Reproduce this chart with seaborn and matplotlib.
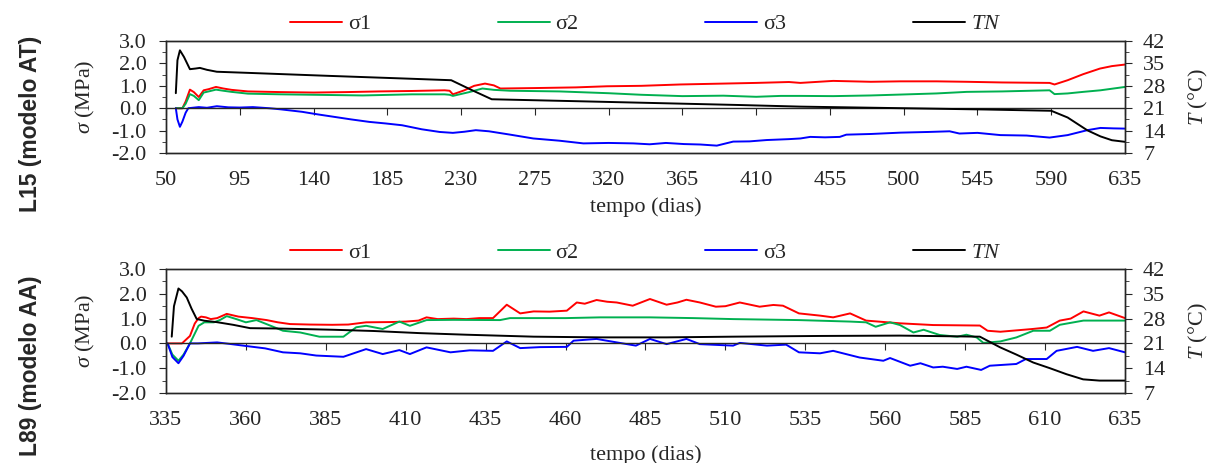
import seaborn as sns
import matplotlib.pyplot as plt
from matplotlib.ticker import MultipleLocator, FormatStrFormatter

# ---- L15 (modelo AT) ----
l15_s1_x = [56, 60, 62, 64.6, 67, 70, 73, 76, 80.5, 85, 90, 100, 120, 140, 160, 180, 200, 220, 223, 225,
            232, 238, 244.6, 250, 254, 275, 300, 319, 340, 363.6, 390, 410, 430, 437, 457, 480, 498, 520,
            538.5, 560, 589, 592, 600, 609.5, 619.7, 627, 635]
l15_s1 = [0, 0, 0.3, 0.83, 0.72, 0.5, 0.8, 0.85, 0.95, 0.88, 0.82, 0.75, 0.72, 0.7, 0.72, 0.75, 0.77, 0.8, 0.78, 0.62,
          0.8, 1.0, 1.10, 1.02, 0.88, 0.9, 0.93, 0.98, 1.0, 1.06, 1.1, 1.13, 1.17, 1.13, 1.22, 1.18, 1.2, 1.2,
          1.18, 1.15, 1.13, 1.06, 1.25, 1.52, 1.77, 1.88, 1.95]

l15_s2_x = [56, 60, 62, 64.6, 67, 70, 73, 76, 80.5, 85, 90, 100, 120, 140, 170, 200, 220, 223, 225, 235,
            243, 250, 260, 290, 320, 340, 365, 390, 410, 425, 437, 457, 480, 498, 520, 538.5, 560, 589,
            592, 600, 609.5, 620, 635]
l15_s2 = [0, 0, 0.2, 0.63, 0.55, 0.36, 0.7, 0.75, 0.83, 0.78, 0.73, 0.65, 0.62, 0.6, 0.57, 0.62, 0.62, 0.6, 0.55, 0.72,
          0.88, 0.82, 0.78, 0.75, 0.67, 0.6, 0.54, 0.56, 0.51, 0.55, 0.55, 0.54, 0.57, 0.61, 0.66, 0.73, 0.75, 0.8,
          0.63, 0.66, 0.73, 0.8, 0.95]

l15_s3_x = [56, 57, 58.5, 60, 62, 63.6, 70, 75, 81, 88, 95, 103, 113, 120, 133, 143, 153, 163, 174, 184,
            194, 206, 217, 225, 232, 239, 247, 260, 274, 290, 304.6, 320, 335, 345, 355, 366, 376, 386,
            396, 406, 416.5, 430, 437, 443, 452, 461, 465, 480, 498, 515, 528, 534, 545, 559, 575, 589,
            600, 612, 620, 628, 635]
l15_s3 = [0, -0.5, -0.83, -0.6, -0.2, 0, 0.05, 0.02, 0.09, 0.04, 0.03, 0.05, 0, -0.05, -0.16, -0.28, -0.39, -0.5, -0.61, -0.68,
          -0.76, -0.94, -1.06, -1.1, -1.05, -0.98, -1.03, -1.18, -1.35, -1.45, -1.57, -1.55, -1.57, -1.61, -1.55, -1.6, -1.62, -1.67,
          -1.49, -1.48, -1.42, -1.38, -1.35, -1.28, -1.3, -1.28, -1.18, -1.15, -1.09, -1.06, -1.03, -1.13, -1.1, -1.2, -1.22, -1.31,
          -1.2, -0.98, -0.88, -0.9, -0.91]

l15_tn_x = [56, 57, 58.5, 61, 64.6, 68, 70.7, 75, 81, 100, 150, 200, 224, 236, 248.7, 300, 350, 400, 437,
            500, 550, 590, 600, 612, 620, 627, 635]
l15_tn = [25.7, 36, 39.1, 37, 33.2, 33.4, 33.6, 33, 32.4, 32.05, 31.1, 30.2, 29.75, 26.8, 23.8, 23.2, 22.6, 22.0, 21.5,
          21.0, 20.6, 20.2, 18.1, 14.1, 12.2, 11.0, 10.5]

# ---- L89 (modelo AA) ----
l89_s1_x = [335.5, 340, 342.5, 344, 345.2, 346, 347.5, 349, 351, 354, 357.7, 362, 366.5, 370, 373.8, 380, 387, 392,
            397.6, 405, 410, 414, 416.5, 420, 425, 429, 433, 437.3, 441.6, 445.8, 450, 455, 460.4, 463.5, 466,
            469.7, 473, 476, 481, 486.4, 491.6, 495, 497.8, 502, 507, 510, 514.5, 520.7, 525, 528, 533, 539.6,
            543.7, 549, 554, 564.6, 575, 589.6, 592, 596, 606, 610.5, 614.6, 618, 622, 627, 630, 635]
l89_s1 = [0, 0, 0.3, 0.8, 1.02, 1.08, 1.05, 0.98, 1.02, 1.19, 1.08, 1.02, 0.94, 0.85, 0.78, 0.76, 0.75, 0.76,
          0.85, 0.86, 0.88, 0.92, 1.05, 0.98, 1.0, 0.98, 1.02, 1.02, 1.56, 1.21, 1.29, 1.28, 1.32, 1.65, 1.6,
          1.75, 1.68, 1.65, 1.52, 1.79, 1.56, 1.65, 1.76, 1.65, 1.48, 1.5, 1.65, 1.48, 1.55, 1.52, 1.21, 1.12,
          1.05, 1.21, 0.92, 0.81, 0.74, 0.72, 0.51, 0.47, 0.58, 0.64, 0.92, 1.0, 1.29, 1.12, 1.25, 1.02]

l89_s2_x = [335.5, 337, 338.9, 340.5, 342.5, 345.2, 347, 350, 352, 354, 357, 360, 363.3, 367, 371.6, 377, 383,
            390.5, 394.5, 397.6, 402.8, 408, 411.3, 416.5, 425, 439.5, 442.6, 460, 470.8, 486.4, 500, 512.4,
            533, 549, 554, 557, 561.5, 564.6, 568.8, 572, 577, 582.5, 585.4, 588.6, 590.7, 596, 601, 606.3,
            611.5, 614.6, 622, 635]
l89_s2 = [0, -0.45, -0.7, -0.45, 0, 0.71, 0.85, 0.85, 0.95, 1.1, 0.98, 0.85, 0.94, 0.75, 0.51, 0.44, 0.27,
          0.27, 0.65, 0.71, 0.58, 0.88, 0.71, 0.94, 0.95, 0.94, 1.02, 1.02, 1.05, 1.05, 1.02, 0.98,
          0.94, 0.88, 0.85, 0.67, 0.85, 0.74, 0.44, 0.55, 0.34, 0.27, 0.35, 0.24, 0.02, 0.08, 0.24, 0.51,
          0.51, 0.75, 0.92, 0.92]

l89_s3_x = [335.5, 337, 338.9, 340.5, 342.5, 345, 351, 355.5, 361, 366, 371.6, 377, 382, 390.5, 397.6, 402.8,
            408, 411.3, 416.5, 424, 430, 437.3, 441.6, 445.8, 452, 460.4, 462.5, 469.7, 476, 482, 486.4, 491.6,
            497.8, 502, 512.4, 514.5, 523, 529, 533, 539.6, 543.7, 552, 559.4, 561.5, 567.8, 571, 575, 578,
            582.5, 585.4, 590, 592.7, 601, 604, 610.5, 613.6, 620, 625, 630, 635]
l89_s3 = [0, -0.55, -0.8, -0.5, 0, 0, 0.04, -0.03, -0.12, -0.2, -0.36, -0.4, -0.49, -0.54, -0.23, -0.43,
          -0.27, -0.43, -0.16, -0.36, -0.28, -0.3, 0.08, -0.19, -0.15, -0.14, 0.11, 0.18, 0.04, -0.09, 0.18, -0.03,
          0.18, -0.03, -0.09, 0.02, -0.09, -0.05, -0.36, -0.4, -0.3, -0.57, -0.7, -0.59, -0.9, -0.8, -0.97, -0.94,
          -1.03, -0.94, -1.07, -0.9, -0.83, -0.63, -0.63, -0.3, -0.14, -0.3, -0.19, -0.36]

l89_tn_x = [336.8, 337.5, 338.9, 340, 341.5, 343, 344.6, 347, 350.9, 356, 361.3, 370, 380, 387.3, 400, 414.4,
            429, 450, 470.8, 491.6, 512.4, 539.6, 564.6, 589.6, 595.9, 601, 606.3, 611.5, 616.7, 621.9, 627, 635]
l89_tn = [22.9, 31.5, 36.5, 35.7, 33.95, 30.8, 27.9, 27.4, 27.0, 26.25, 25.3, 25.2, 25.0, 24.85, 24.5, 23.9,
          23.45, 22.9, 22.7, 22.7, 22.9, 23.1, 23.2, 22.9, 19.9, 17.85, 15.6, 14.0, 12.3, 10.85, 10.5, 10.5]

sns.set_style('ticks')
plt.rcParams['font.family'] = ['Liberation Serif', 'DejaVu Serif']
plt.rcParams['mathtext.fontset'] = 'custom'
plt.rcParams['mathtext.it'] = 'Liberation Serif:italic'
plt.rcParams['mathtext.rm'] = 'Liberation Serif'
plt.rcParams['axes.unicode_minus'] = False
plt.rcParams['axes.linewidth'] = 1.0

FS = 16
fig = plt.figure(figsize=(12.08, 4.63), dpi=100)


def painel(pos, s1x, s1, s2x, s2, s3x, s3, tnx, tn, xmin, xmax, passo, rotulo, rot_y, xlabelpad):
    ax = fig.add_axes(pos)
    sns.lineplot(x=s1x, y=s1, ax=ax, color='#ff0000', lw=1.4, label='σ1', sort=False, estimator=None)
    sns.lineplot(x=s2x, y=s2, ax=ax, color='#00b050', lw=1.4, label='σ2', sort=False, estimator=None)
    sns.lineplot(x=s3x, y=s3, ax=ax, color='#0000ff', lw=1.4, label='σ3', sort=False, estimator=None)
    ax.set_xlim(xmin, xmax)
    ax.set_ylim(-2, 3)

    ax2 = ax.twinx()
    sns.lineplot(x=tnx, y=tn, ax=ax2, color='black', lw=1.4, label='$TN$', sort=False, estimator=None)
    ax2.set_ylim(7, 42)

    # eixo x cruzando no zero (estilo Excel)
    ax.spines['bottom'].set_position(('data', 0))
    ax.set_xticks(range(xmin, xmax + 1, passo))
    ax.tick_params(axis='x', direction='out', length=5, labelbottom=False)
    sec = ax.secondary_xaxis(0)
    sec.set_xticks(range(xmin, xmax + 1, passo))
    sec.tick_params(length=0, pad=13, labelsize=FS)
    sec.set_xlabel('tempo (dias)', fontsize=FS, labelpad=xlabelpad)

    ax.yaxis.set_major_locator(MultipleLocator(1))
    ax.yaxis.set_minor_locator(MultipleLocator(0.5))
    ax.yaxis.set_major_formatter(FormatStrFormatter('%.1f'))
    ax.tick_params(axis='y', which='major', length=5, labelsize=FS, pad=9)
    ax.tick_params(axis='y', which='minor', length=3)
    ax.set_ylabel('$σ$ (MPa)', fontsize=FS)
    ax.yaxis.set_label_coords(-0.072, 0.5)
    ax.set_xlabel('')

    ax2.yaxis.set_major_locator(MultipleLocator(7))
    ax2.yaxis.set_minor_locator(MultipleLocator(3.5))
    ax2.tick_params(axis='y', which='major', length=5, labelsize=FS, pad=8)
    ax2.tick_params(axis='y', which='minor', length=3)
    ax2.set_ylabel('$T$ (°C)', fontsize=FS)
    ax2.yaxis.set_label_coords(1.0647, 0.5)

    h1, l1 = ax.get_legend_handles_labels()
    h2, l2 = ax2.get_legend_handles_labels()
    ax2.get_legend().remove()
    ax.legend(h1 + h2, l1 + l2, loc='lower center', bbox_to_anchor=(0.5, 0.98), ncol=4, frameon=False,
              fontsize=FS, handlelength=2.34, handletextpad=0.27, columnspacing=5.7, borderaxespad=0)

    fig.text(0.025, rot_y, rotulo, rotation=90, family=['Liberation Sans'], weight='bold',
             fontsize=16.5, ha='center', va='center')
    return ax


painel([0.1374, 0.6695, 0.7939, 0.2419], l15_s1_x, l15_s1, l15_s2_x, l15_s2, l15_s3_x, l15_s3,
       l15_tn_x, l15_tn, 50, 635, 45, 'L15 (modelo AT)', 0.732, 5)
painel([0.1374, 0.1512, 0.7939, 0.2678], l89_s1_x, l89_s1, l89_s2_x, l89_s2, l89_s3_x, l89_s3,
       l89_tn_x, l89_tn, 335, 635, 25, 'L89 (modelo AA)', 0.21, 11)

fig.savefig('out.png', dpi=100)
